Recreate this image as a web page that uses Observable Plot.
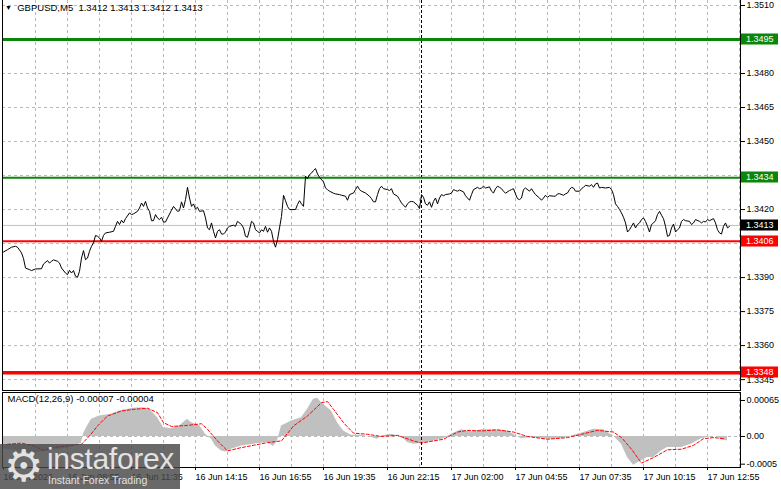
<!DOCTYPE html>
<html><head><meta charset="utf-8">
<script src="https://cdn.jsdelivr.net/npm/d3@7"></script>
<script src="https://cdn.jsdelivr.net/npm/@observablehq/plot@0.6"></script>
<style>
body{margin:0;background:#fff;}
#wrap{position:relative;width:781px;height:489px;overflow:hidden;font-family:"Liberation Sans",Arial,sans-serif;}
#wrap svg{display:block;}
.hdr{position:absolute;left:5px;top:2px;font-size:9.5px;color:#000;white-space:pre;}
.hdr .tri{font-size:7px;position:relative;top:-1px;}
.logo{position:absolute;left:0;top:444px;width:180px;height:45px;background:rgba(72,72,72,0.82);color:#e2e2e2;}
.logo .gear{position:absolute;left:4px;top:-6px;font-family:"DejaVu Sans";font-size:44px;line-height:56px;}
.logo .name{position:absolute;left:47px;top:0px;font-size:30px;line-height:30px;letter-spacing:-0.3px;}
.logo .tag{position:absolute;left:48px;top:30px;font-size:10.5px;line-height:12px;}
</style></head><body><div id="wrap"></div><script>
// ---- data ----
const symbolTitle = "GBPUSD,M5";
const ohlc = ["1.3412", "1.3413", "1.3412", "1.3413"];
const macdTitle = "MACD(12,26,9) -0.00007 -0.00004";

const timeTickBars = [0, 32, 64, 96, 128, 160, 192, 224, 256, 288, 320, 352];
const timeTickLabels = ["16 Jun 2026", "16 Jun 08:55", "16 Jun 11:35", "16 Jun 14:15", "16 Jun 16:55", "16 Jun 19:35",
  "16 Jun 22:15", "17 Jun 02:00", "17 Jun 04:55", "17 Jun 07:35", "17 Jun 10:15", "17 Jun 12:55"];
const gridBars = [16, 32, 48, 64, 80, 96, 112, 128, 144, 160, 176, 192, 208, 224, 240, 256, 272, 288, 304, 320, 336, 352, 368];
const cursorBar = 209;

const priceTicks = [1.3345, 1.3360, 1.3375, 1.3390, 1.3405, 1.3420, 1.3435, 1.3450, 1.3465, 1.3480, 1.3495, 1.3510];
const priceTickLabels = [1.3345, 1.3360, 1.3375, 1.3390, 1.3405, 1.3420, 1.3450, 1.3465, 1.3480, 1.3510];
const bidPrice = 1.3413;
const buyTarget = 1.3495, buyEntry = 1.3434;
const sellEntry = 1.3406, sellTarget = 1.3348;

const priceBars = [0,2,4,6,7,9,10,11,13,14,16,19,20,22,23,24,25,27,28,29,31,32,33,34,35,36,37,38,39,40,41,42,43,44,45,46,47,48,49,50,51,53,55,56,57,58,59,60,61,63,64,65,67,68,69,70,71,72,73,74,75,76,77,78,79,80,81,82,84,85,87,88,89,90,
91,92,93,94,95,96,97,98,100,101,102,103,104,105,106,107,108,109,110,111,112,113,115,116,117,119,120,121,122,123,124,125,126,127,128,129,130,131,132,133,134,135,136,137,138,139,140,141,142,143,144,146,147,148,149,150,151,152,153,154,155,156,157,158,160,161,162,163,165,166,168,169,171,172,173,175,176,177,178,179,181,183,
184,185,186,187,188,189,190,192,193,194,195,197,198,199,201,202,203,204,205,207,208,209,210,211,212,213,214,215,216,217,218,219,220,221,223,224,225,226,227,228,230,231,232,233,234,235,237,238,239,240,241,243,244,245,246,247,248,249,250,251,253,254,255,256,257,258,259,260,261,263,264,265,266,268,269,270,271,272,273,275,
276,277,278,280,281,282,283,284,285,286,288,289,290,291,293,294,295,296,297,298,299,301,303,304,305,306,307,308,309,310,311,312,313,314,315,316,317,318,319,320,321,322,323,324,325,326,327,328,329,330,331,332,333,334,335,336,337,338,339,340,341,343,344,345,346,348,349,350,351,352,353,355,356,357,358,359,360,361,362,363];
const priceClose = [1.34013,1.34023,1.34034,1.34038,1.34034,1.34009,1.33984,1.33942,1.33935,1.33931,1.33938,1.33939,1.33960,1.33975,1.33964,1.33972,1.33978,1.33972,1.33964,1.33942,1.33920,1.33913,1.33932,1.33920,1.33931,1.33906,1.33901,1.33928,1.33986,1.34019,1.33979,1.33986,1.34016,1.34038,1.34053,1.34086,1.34082,1.34075,1.34060,1.34086,1.34097,1.34100,1.34104,1.34126,1.34148,1.34134,1.34153,1.34141,1.34160,1.34185,1.34178,1.34181,1.34192,1.34207,1.34229,1.34214,1.34236,1.34207,1.34192,1.34151,1.34151,1.34178,1.34163,1.34156,1.34166,1.34145,1.34145,1.34163,1.34197,1.34214,1.34192,1.34195,1.34234,1.34207,
1.34244,1.34298,1.34251,1.34214,1.34225,1.34203,1.34210,1.34192,1.34195,1.34163,1.34119,1.34111,1.34141,1.34104,1.34075,1.34104,1.34111,1.34092,1.34092,1.34101,1.34119,1.34126,1.34131,1.34126,1.34148,1.34134,1.34119,1.34082,1.34078,1.34111,1.34148,1.34141,1.34111,1.34104,1.34097,1.34111,1.34104,1.34126,1.34100,1.34119,1.34104,1.34060,1.34034,1.34067,1.34119,1.34170,1.34263,1.34239,1.34214,1.34200,1.34200,1.34200,1.34222,1.34239,1.34225,1.34214,1.34347,1.34336,1.34354,1.34361,1.34372,1.34381,1.34357,1.34342,1.34322,1.34295,1.34288,1.34281,1.34272,1.34269,1.34266,1.34263,1.34259,1.34241,1.34266,1.34273,1.34288,1.34303,1.34288,1.34281,1.34273,1.34259,
1.34248,1.34234,1.34234,1.34266,1.34292,1.34303,1.34292,1.34288,1.34284,1.34292,1.34269,1.34259,1.34244,1.34229,1.34210,1.34225,1.34234,1.34236,1.34234,1.34219,1.34204,1.34266,1.34254,1.34225,1.34219,1.34234,1.34210,1.34236,1.34251,1.34225,1.34251,1.34266,1.34261,1.34266,1.34269,1.34273,1.34288,1.34284,1.34281,1.34286,1.34278,1.34261,1.34251,1.34241,1.34266,1.34288,1.34298,1.34292,1.34295,1.34303,1.34295,1.34300,1.34281,1.34273,1.34292,1.34303,1.34298,1.34292,1.34281,1.34272,1.34284,1.34288,1.34292,1.34269,1.34248,1.34244,1.34251,1.34288,1.34295,1.34281,1.34292,1.34278,1.34266,1.34251,1.34241,1.34251,1.34263,1.34254,1.34261,1.34259,
1.34259,1.34269,1.34270,1.34263,1.34269,1.34273,1.34288,1.34298,1.34295,1.34281,1.34281,1.34292,1.34298,1.34307,1.34303,1.34310,1.34298,1.34313,1.34317,1.34295,1.34298,1.34295,1.34298,1.34288,1.34266,1.34225,1.34214,1.34200,1.34185,1.34166,1.34141,1.34101,1.34111,1.34126,1.34141,1.34119,1.34134,1.34141,1.34156,1.34163,1.34148,1.34126,1.34101,1.34134,1.34141,1.34151,1.34178,1.34192,1.34175,1.34160,1.34126,1.34082,1.34086,1.34119,1.34136,1.34101,1.34111,1.34119,1.34148,1.34156,1.34151,1.34148,1.34134,1.34141,1.34156,1.34148,1.34141,1.34148,1.34145,1.34156,1.34151,1.34160,1.34141,1.34111,1.34097,1.34092,1.34126,1.34141,1.34119,1.34126];

const histBars = [0,5,10,15,20,25,30,35,39,40,42,44,48,54,58,65,70,73,77,80,84,88,92,94,98,101,104,106,109,111,114,119,125,132,135,137,139,144,149,152,155,157,159,164,167,170,174,179,184,187,189,194,199,202,205,210,215,220,224,229,234,239,245,252,255,259,264,272,279,284,289,295,300,305,309,312,315,319,322,325,329,332,339,344,349,354,357,359,362];
const histValues = [-0.00022,-0.00025,-0.00028,-0.00030,-0.00028,-0.00025,-0.00022,-0.00018,-0.00012,0.00005,0.00019,0.00031,0.00037,0.00040,0.00046,0.00051,0.00052,0.00049,0.00034,0.00016,0.00014,0.00019,0.00031,0.00025,0.00020,0.00004,-0.00005,-0.00017,-0.00026,-0.00028,-0.00023,-0.00017,-0.00014,-0.00011,-0.00018,-0.00008,0.00019,0.00028,0.00034,0.00049,0.00067,0.00069,0.00061,0.00046,0.00025,0.00010,0.00002,0.00002,-0.00002,-0.00005,0.00001,0.00004,0.00000,-0.00011,-0.00014,-0.00012,-0.00008,-0.00004,0.00004,0.00012,0.00008,0.00012,0.00012,0.00010,0.00004,-0.00004,-0.00002,-0.00005,-0.00004,0.00001,0.00006,0.00013,0.00012,0.00001,-0.00014,-0.00038,-0.00052,-0.00044,-0.00038,-0.00038,-0.00026,-0.00020,-0.00020,-0.00014,-0.00004,0.00000,0.00000,-0.00006,-0.00008];

const signalBars = [2,9,15,20,25,32,39,43,47,52,59,65,72,77,80,84,92,99,102,107,112,119,125,132,139,145,152,159,162,165,170,175,182,189,197,205,209,215,220,227,232,239,247,255,262,272,282,289,297,305,309,314,319,325,332,339,345,350,355,360];
const signalValues = [-0.00014,-0.00012,-0.00017,-0.00025,-0.00020,-0.00017,-0.00014,0.00001,0.00019,0.00037,0.00046,0.00049,0.00051,0.00043,0.00025,0.00018,0.00020,0.00023,0.00013,-0.00008,-0.00026,-0.00020,-0.00016,-0.00011,-0.00008,0.00019,0.00037,0.00061,0.00063,0.00049,0.00025,0.00006,0.00004,0.00000,0.00002,-0.00008,-0.00012,-0.00008,-0.00005,0.00008,0.00011,0.00010,0.00012,0.00008,0.00000,-0.00005,-0.00002,0.00004,0.00011,0.00008,-0.00002,-0.00023,-0.00048,-0.00038,-0.00024,-0.00023,-0.00016,-0.00004,-0.00002,-0.00004];

const macdTicks = [0.00065, 0, -0.0005];
const macdTickLabels = ["0.00065", "0.00", "-0.0005"];

// ---- build ----
const price = priceBars.map((b, i) => ({bar: b, close: priceClose[i]}));
const hist = histBars.map((b, i) => ({bar: b, v: histValues[i]}));
const signal = signalBars.map((b, i) => ({bar: b, v: signalValues[i]}));

const FONT = "'Liberation Sans', Arial, sans-serif";
const W = 781;
const xDomain = [-0.5, 368.5];
const GRID = "#b8b8b8";

function priceTags(tags) {
  return function (index, scales, values, dimensions) {
    const g = d3.create("svg:g").attr("text-anchor", "start");
    const x0 = dimensions.width - dimensions.marginRight + 1;
    for (const t of tags) {
      const y = Math.round(scales.y(t.price));
      g.append("rect").attr("x", x0).attr("y", y - 5.5).attr("width", 37).attr("height", 11).attr("fill", t.color);
      g.append("text").attr("x", x0 + 5).attr("y", y).attr("dy", "0.35em").attr("text-anchor", "start")
        .attr("fill", "#fff").attr("font-size", 9).attr("font-family", FONT).text(t.price.toFixed(4));
    }
    return g.node();
  };
}

const main = Plot.plot({
  width: W, height: 391,
  marginLeft: 2, marginRight: 41, marginTop: 0, marginBottom: 1,
  x: {domain: xDomain, axis: null},
  y: {domain: [1.33402, 1.35122]},
  style: {fontFamily: FONT, fontSize: "9px", color: "#000", background: "#fff", overflow: "visible"},
  marks: [
    Plot.ruleY(priceTicks, {stroke: GRID, strokeDasharray: "3,3"}),
    Plot.ruleX(gridBars, {stroke: GRID, strokeDasharray: "3,3"}),
    Plot.ruleY([bidPrice], {stroke: "#c0c0c0"}),
    Plot.ruleX([cursorBar], {stroke: "#000", strokeDasharray: "3,2"}),
    Plot.ruleY([buyTarget], {stroke: "#0a860a", strokeWidth: 3}),
    Plot.ruleY([buyEntry], {stroke: "#0a860a", strokeWidth: 2}),
    Plot.ruleY([sellEntry], {stroke: "#ff0000", strokeWidth: 2}),
    Plot.ruleY([sellTarget], {stroke: "#ff0000", strokeWidth: 3.5}),
    Plot.line(price, {x: "bar", y: "close", stroke: "#000", strokeWidth: 1}),
    Plot.frame({stroke: "#000", insetTop: -3}),
    Plot.axisY({anchor: "right", ticks: priceTickLabels, tickFormat: d => d.toFixed(4), tickSize: 4, tickPadding: 2, label: null, fill: "#000"}),
    priceTags([
      {price: buyTarget, color: "#0a860a"},
      {price: buyEntry, color: "#0a860a"},
      {price: bidPrice, color: "#000"},
      {price: sellEntry, color: "#ff0000"},
      {price: sellTarget, color: "#ff0000"}
    ])
  ]
});

const macd = Plot.plot({
  width: W, height: 98,
  marginLeft: 2, marginRight: 41, marginTop: 1, marginBottom: 22,
  x: {domain: xDomain},
  y: {domain: [-0.00056, 0.000794]},
  style: {fontFamily: FONT, fontSize: "9px", color: "#000", background: "#fff", overflow: "visible"},
  marks: [
    Plot.ruleX(gridBars, {stroke: GRID, strokeDasharray: "3,3"}),
    Plot.ruleY([0], {stroke: GRID, strokeDasharray: "3,3"}),
    Plot.areaY(hist, {x: "bar", y1: 0, y2: "v", fill: "#c0c0c0"}),
    Plot.line(signal, {x: "bar", y: "v", stroke: "#ff0000", strokeDasharray: "3,2", strokeWidth: 1}),
    Plot.ruleX([cursorBar], {stroke: "#000", strokeDasharray: "3,2"}),
    Plot.frame({stroke: "#000"}),
    Plot.axisY({anchor: "right", ticks: macdTicks, tickFormat: d => macdTickLabels[macdTicks.indexOf(d)], tickSize: 4, tickPadding: 2, label: null, fill: "#000"}),
    Plot.axisX({anchor: "bottom", ticks: timeTickBars, tickFormat: d => timeTickLabels[timeTickBars.indexOf(d)], tickSize: 3, tickPadding: 3, textAnchor: "start", label: null, fill: "#000"}),
    Plot.text([macdTitle], {frameAnchor: "top-left", dx: 5, dy: 3, fill: "#000", fontSize: 9.5, textAnchor: "start", lineAnchor: "top"})
  ]
});

const wrap = document.getElementById("wrap");
wrap.appendChild(main);
wrap.appendChild(macd);

const hdr = document.createElement("div");
hdr.className = "hdr";
hdr.innerHTML = '<span class="tri">\u25BC</span>  ' + symbolTitle + "  " + ohlc.join(" ");
wrap.appendChild(hdr);

const logo = document.createElement("div");
logo.className = "logo";
logo.innerHTML = '<span class="gear">\u2699</span><span class="name">instaforex</span><span class="tag">Instant Forex Trading</span>';
wrap.appendChild(logo);
</script></body></html>
